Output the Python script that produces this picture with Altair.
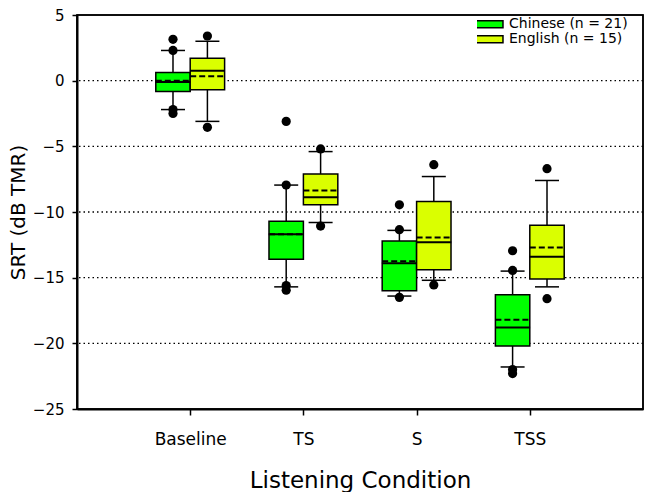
import json
import altair as alt
import pandas as pd

# ---------------- data ----------------
conditions = ["Baseline", "TS", "S", "TSS"]
groups = ["Chinese", "English"]
group_labels = ["Chinese (n = 21)", "English (n = 15)"]
group_colors = ["#00FF00", "#DAFF00"]

chinese_q1 = [-0.82, -13.6, -16.0, -20.2]
chinese_median = [-0.1, -11.7, -13.9, -18.8]
chinese_mean = [0.0, -11.7, -13.75, -18.2]
chinese_q3 = [0.63, -10.7, -12.2, -16.3]
chinese_whisker_low = [-2.2, -15.7, -16.4, -21.8]
chinese_whisker_high = [2.3, -7.95, -11.4, -14.5]
chinese_points = [[3.15, 2.3, -2.2, -2.5], [-3.1, -7.95, -15.6, -15.95],
                  [-9.45, -11.35, -16.5], [-12.95, -14.45, -22.0, -22.3]]

english_q1 = [-0.7, -9.45, -14.4, -15.1]
english_median = [0.75, -8.87, -12.3, -13.4]
english_mean = [0.33, -8.37, -11.95, -12.7]
english_q3 = [1.7, -7.1, -9.2, -11.0]
english_whisker_low = [-3.1, -10.8, -15.2, -15.7]
english_whisker_high = [3.0, -5.4, -7.3, -7.6]
english_points = [[3.4, -3.55], [-5.2, -11.07], [-6.4, -15.55], [-6.7, -16.6]]

y_ticks = [-25, -20, -15, -10, -5, 0, 5]
grid_values = [-20, -15, -10, -5, 0]

# ---------------- build tables ----------------
HALF = 0.152  # half box width in category units
stats = {
    "Chinese": (chinese_q1, chinese_median, chinese_mean, chinese_q3,
                chinese_whisker_low, chinese_whisker_high, chinese_points, -1),
    "English": (english_q1, english_median, english_mean, english_q3,
                english_whisker_low, english_whisker_high, english_points, 1),
}
rows, pts = [], []
for g, (q1, med, mean, q3, wl, wh, points, side) in stats.items():
    for i, c in enumerate(conditions):
        pos = i + 1 + side * HALF
        rows.append(dict(cond=c, group=g, pos=pos, lo=pos - HALF, hi=pos + HALF,
                         q1=q1[i], median=med[i], mean=mean[i], q3=q3[i],
                         wlo=wl[i], whi=wh[i]))
        for v in points[i]:
            pts.append(dict(cond=c, group=g, pos=pos, value=v))
box_df = pd.DataFrame(rows)
pts_df = pd.DataFrame(pts)

FONT = "DejaVu Sans"
label_map = json.dumps(dict(zip(groups, group_labels)))
cond_map = json.dumps([""] + conditions)

X_MAX = len(conditions) + 1
Y_MIN, Y_MAX = y_ticks[0], y_ticks[-1]
x_scale = alt.Scale(domain=[0, X_MAX], nice=False, zero=False)
y_scale = alt.Scale(domain=[Y_MIN, Y_MAX], nice=False, zero=False)

x_axis = alt.Axis(values=list(range(1, len(conditions) + 1)),
                  labelExpr=f"{cond_map}[datum.value]", grid=False,
                  title="Listening Condition", titleFontSize=23, titleFont=FONT,
                  titleFontWeight="normal", titlePadding=22,
                  labelFont=FONT, labelFontSize=17, labelPadding=16,
                  tickSize=6, tickColor="black", tickWidth=1.5,
                  domainColor="black", domainWidth=2, labelColor="black",
                  titleColor="black")
y_axis = alt.Axis(values=y_ticks, grid=False,
                  title="SRT (dB TMR)", titleFontSize=20, titleFont=FONT,
                  titleFontWeight="normal", titlePadding=4,
                  labelFont=FONT, labelFontSize=15, labelPadding=8,
                  tickSize=5, tickColor="black", tickWidth=1.5,
                  domainColor="black", domainWidth=2, labelColor="black",
                  titleColor="black")

base = alt.Chart(box_df)

# frame: a box drawn between the scale extremes
frame_df = pd.DataFrame({"x0": [0], "x1": [X_MAX], "y0": [Y_MIN], "y1": [Y_MAX]})
frame = alt.Chart(frame_df).mark_rect(fill="white", fillOpacity=0, stroke="black",
                                      strokeWidth=1.5, clip=False).encode(
    x=alt.X("x0:Q", scale=x_scale, axis=x_axis), x2="x1:Q",
    y=alt.Y("y0:Q", scale=y_scale, axis=y_axis), y2="y1:Q")

grid = alt.Chart(pd.DataFrame({"g": grid_values})).mark_rule(
    color="black", strokeWidth=1.4, strokeDash=[1.5, 3]
).encode(y=alt.Y("g:Q", scale=y_scale))

whisk_hi = base.mark_rule(color="black", strokeWidth=1.5).encode(
    x=alt.X("pos:Q", scale=x_scale), y=alt.Y("q3:Q", scale=y_scale), y2="whi:Q")
whisk_lo = base.mark_rule(color="black", strokeWidth=1.5).encode(
    x=alt.X("pos:Q", scale=x_scale), y=alt.Y("wlo:Q", scale=y_scale), y2="q1:Q")
cap_hi = base.mark_tick(orient="horizontal", color="black", size=24, thickness=1.5, opacity=1).encode(
    x=alt.X("pos:Q", scale=x_scale), y=alt.Y("whi:Q", scale=y_scale))
cap_lo = base.mark_tick(orient="horizontal", color="black", size=24, thickness=1.5, opacity=1).encode(
    x=alt.X("pos:Q", scale=x_scale), y=alt.Y("wlo:Q", scale=y_scale))

boxes = base.mark_bar(stroke="black", strokeWidth=1.5, opacity=1).encode(
    x=alt.X("lo:Q", scale=x_scale), x2="hi:Q",
    y=alt.Y("q1:Q", scale=y_scale), y2="q3:Q",
    color=alt.Color("group:N", scale=alt.Scale(domain=groups, range=group_colors),
                    legend=alt.Legend(
                        title=None, orient="none", legendX=400, legendY=4,
                        symbolType="M-2.5,-0.5H2.5V0.5H-2.5Z", symbolSize=207,
                        symbolStrokeColor="black", symbolStrokeWidth=1.5,
                        symbolOpacity=1, clipHeight=10.5,
                        labelExpr=f"{label_map}[datum.label]",
                        labelFont=FONT, labelFontSize=14, labelColor="black",
                        labelOffset=16, rowPadding=0, padding=0)))

median = base.mark_tick(orient="horizontal", color="black", size=35, thickness=2, opacity=1).encode(
    x=alt.X("pos:Q", scale=x_scale), y=alt.Y("median:Q", scale=y_scale))
mean = base.mark_rule(color="black", strokeWidth=2, strokeDash=[6, 3]).encode(
    x=alt.X("lo:Q", scale=x_scale), x2="hi:Q", y=alt.Y("mean:Q", scale=y_scale))

dots = alt.Chart(pts_df).mark_circle(size=85, color="black", opacity=1).encode(
    x=alt.X("pos:Q", scale=x_scale), y=alt.Y("value:Q", scale=y_scale))

chart = alt.layer(grid, whisk_hi, whisk_lo, cap_hi, cap_lo,
                  boxes, median, mean, dots, frame).properties(
    width=640, height=484,
    background="white",
    autosize=alt.AutoSizeParams(type="fit", contains="padding"),
    padding={"left": 0, "top": 0, "right": 4, "bottom": 0},
).configure_view(stroke="black", strokeWidth=1.5)

chart.save("out.html", embed_options={"renderer": "svg", "actions": False})
